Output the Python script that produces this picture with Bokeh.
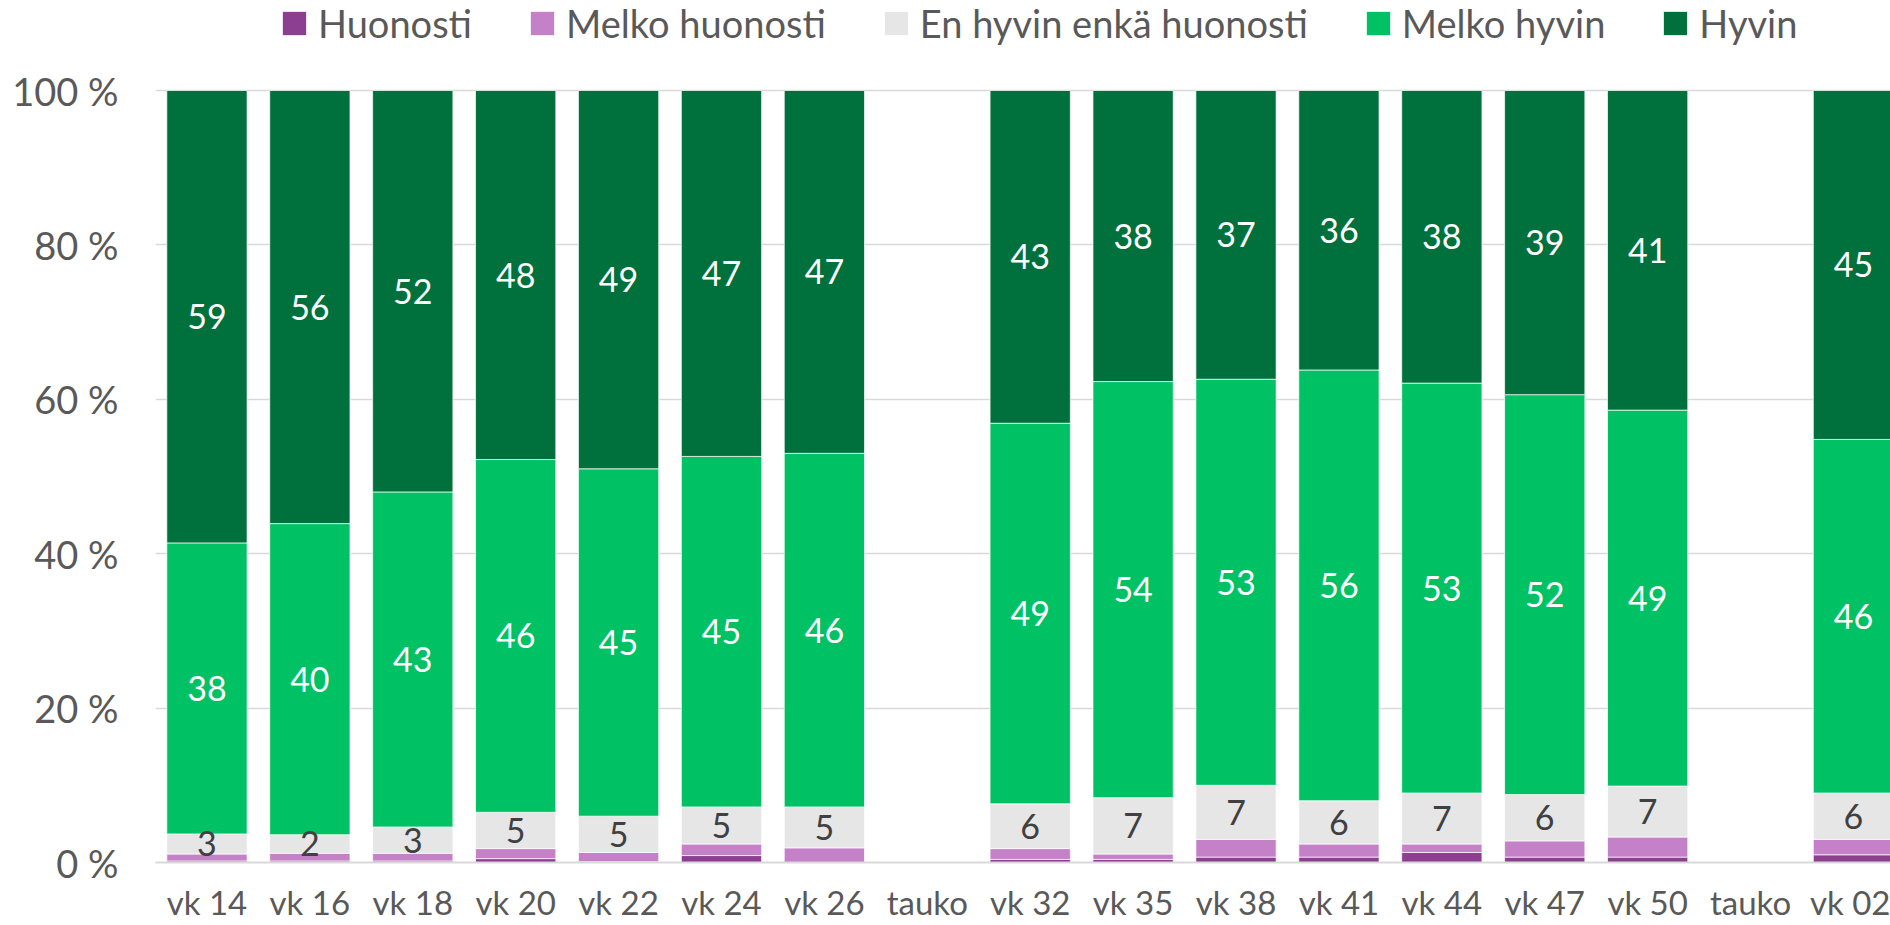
from bokeh.plotting import figure
from bokeh.models import ColumnDataSource, Range1d, FixedTicker, Legend, LegendItem
from bokeh.core.properties import value
from bokeh.embed import file_html
from bokeh.resources import INLINE

categories = ["vk 14", "vk 16", "vk 18", "vk 20", "vk 22", "vk 24", "vk 26", "tauko",
              "vk 32", "vk 35", "vk 38", "vk 41", "vk 44", "vk 47", "vk 50", "tauko", "vk 02"]
huonosti = [0.2, 0.2, 0.2, 0.5, 0.1, 0.9, 0.0, None, 0.4, 0.4, 0.7, 0.7, 1.3, 0.7, 0.7, None, 1.0]
melko_huonosti = [0.9, 1.0, 1.0, 1.3, 1.2, 1.5, 1.9, None, 1.4, 0.7, 2.3, 1.7, 1.1, 2.1, 2.6, None, 2.0]
neutraali = [2.6, 2.4, 3.4, 4.7, 4.7, 4.8, 5.3, None, 5.8, 7.3, 7.0, 5.6, 6.6, 6.0, 6.6, None, 6.0]
melko_hyvin = [37.7, 40.3, 43.4, 45.7, 45.0, 45.4, 45.8, None, 49.3, 53.9, 52.6, 55.8, 53.1, 51.8, 48.7, None, 45.8]
hyvin = [58.6, 56.1, 52.0, 47.8, 49.0, 47.4, 47.0, None, 43.1, 37.7, 37.4, 36.2, 37.9, 39.4, 41.4, None, 45.2]

series_names = ["Huonosti", "Melko huonosti", "En hyvin enkä huonosti", "Melko hyvin", "Hyvin"]
series_keys = ["h", "mh", "n", "mhy", "hy"]
series_vals = [huonosti, melko_huonosti, neutraali, melko_hyvin, hyvin]
colors = ["#8C3E90", "#C481C7", "#E6E6E6", "#00C264", "#00713C"]
label_colors = [None, None, "#404040", "#FFFFFF", "#FFFFFF"]
y_ticks = [0, 20, 40, 60, 80, 100]

FONT = "Lato"
TXT = "#595959"

idx = [i for i, v in enumerate(hyvin) if v is not None]
data = {"x": idx}
for k, vals in zip(series_keys, series_vals):
    data[k] = [vals[i] for i in idx]
src = ColumnDataSource(data)

p = figure(width=1890, height=925, output_backend="svg", toolbar_location=None,
           x_range=Range1d(-0.5, 16.36), y_range=Range1d(0, 111.66),
           min_border_left=155, min_border_right=0, min_border_top=0, min_border_bottom=63)
p.outline_line_color = None
p.background_fill_color = "white"

rs = p.vbar_stack(series_keys, x="x", width=0.78, color=colors, source=src,
                  line_color="white", line_width=1, line_alpha=0.7)

# data labels
lx, ly, lt, lc = [], [], [], []
for i in idx:
    base = 0.0
    for s, vals in enumerate(series_vals):
        v = vals[i]
        if label_colors[s] is not None:
            lx.append(i)
            ly.append(base + v / 2)
            lt.append(str(int(round(v))))
            lc.append(label_colors[s])
        base += v
lsrc = ColumnDataSource(dict(x=lx, y=ly, t=lt, c=lc))
p.text(x="x", y="y", text="t", text_color="c", source=lsrc, text_font=value(FONT),
       text_font_size="34px", text_align="center", text_baseline="middle")

# axes
p.xaxis.ticker = FixedTicker(ticks=list(range(len(categories))))
p.xaxis.major_label_overrides = {i: c for i, c in enumerate(categories)}
p.xaxis.major_label_text_font = FONT
p.xaxis.major_label_text_font_size = "33px"
p.xaxis.major_label_text_color = TXT
p.xaxis.major_label_standoff = 19
p.xaxis.major_tick_out = 0
p.xaxis.major_tick_in = 0
p.xaxis.major_tick_line_color = None
p.xaxis.minor_tick_line_color = None
p.xaxis.axis_line_color = "#D9D9D9"
p.xaxis.axis_line_width = 2

p.yaxis.ticker = FixedTicker(ticks=y_ticks)
p.yaxis.major_label_overrides = {t: f"{t} %" for t in y_ticks}
p.yaxis.major_label_text_font = FONT
p.yaxis.major_label_text_font_size = "38px"
p.yaxis.major_label_text_color = TXT
p.yaxis.major_label_standoff = 37
p.yaxis.major_tick_out = 0
p.yaxis.major_tick_in = 0
p.yaxis.major_tick_line_color = None
p.yaxis.minor_tick_line_color = None
p.yaxis.axis_line_color = None

p.xgrid.grid_line_color = None
p.ygrid.grid_line_color = "#D9D9D9"
p.ygrid.grid_line_width = 1.5

legend = Legend(items=[LegendItem(label=n, renderers=[r]) for n, r in zip(series_names, rs)],
                orientation="horizontal", location=(124, 816),
                label_text_font=FONT, label_text_font_size="38px", label_text_color=TXT,
                glyph_width=30, glyph_height=30, label_standoff=9, spacing=55,
                padding=0, margin=0, border_line_color=None, background_fill_alpha=0)
p.add_layout(legend, "center")

open("out.html", "w").write(file_html(p, INLINE))
